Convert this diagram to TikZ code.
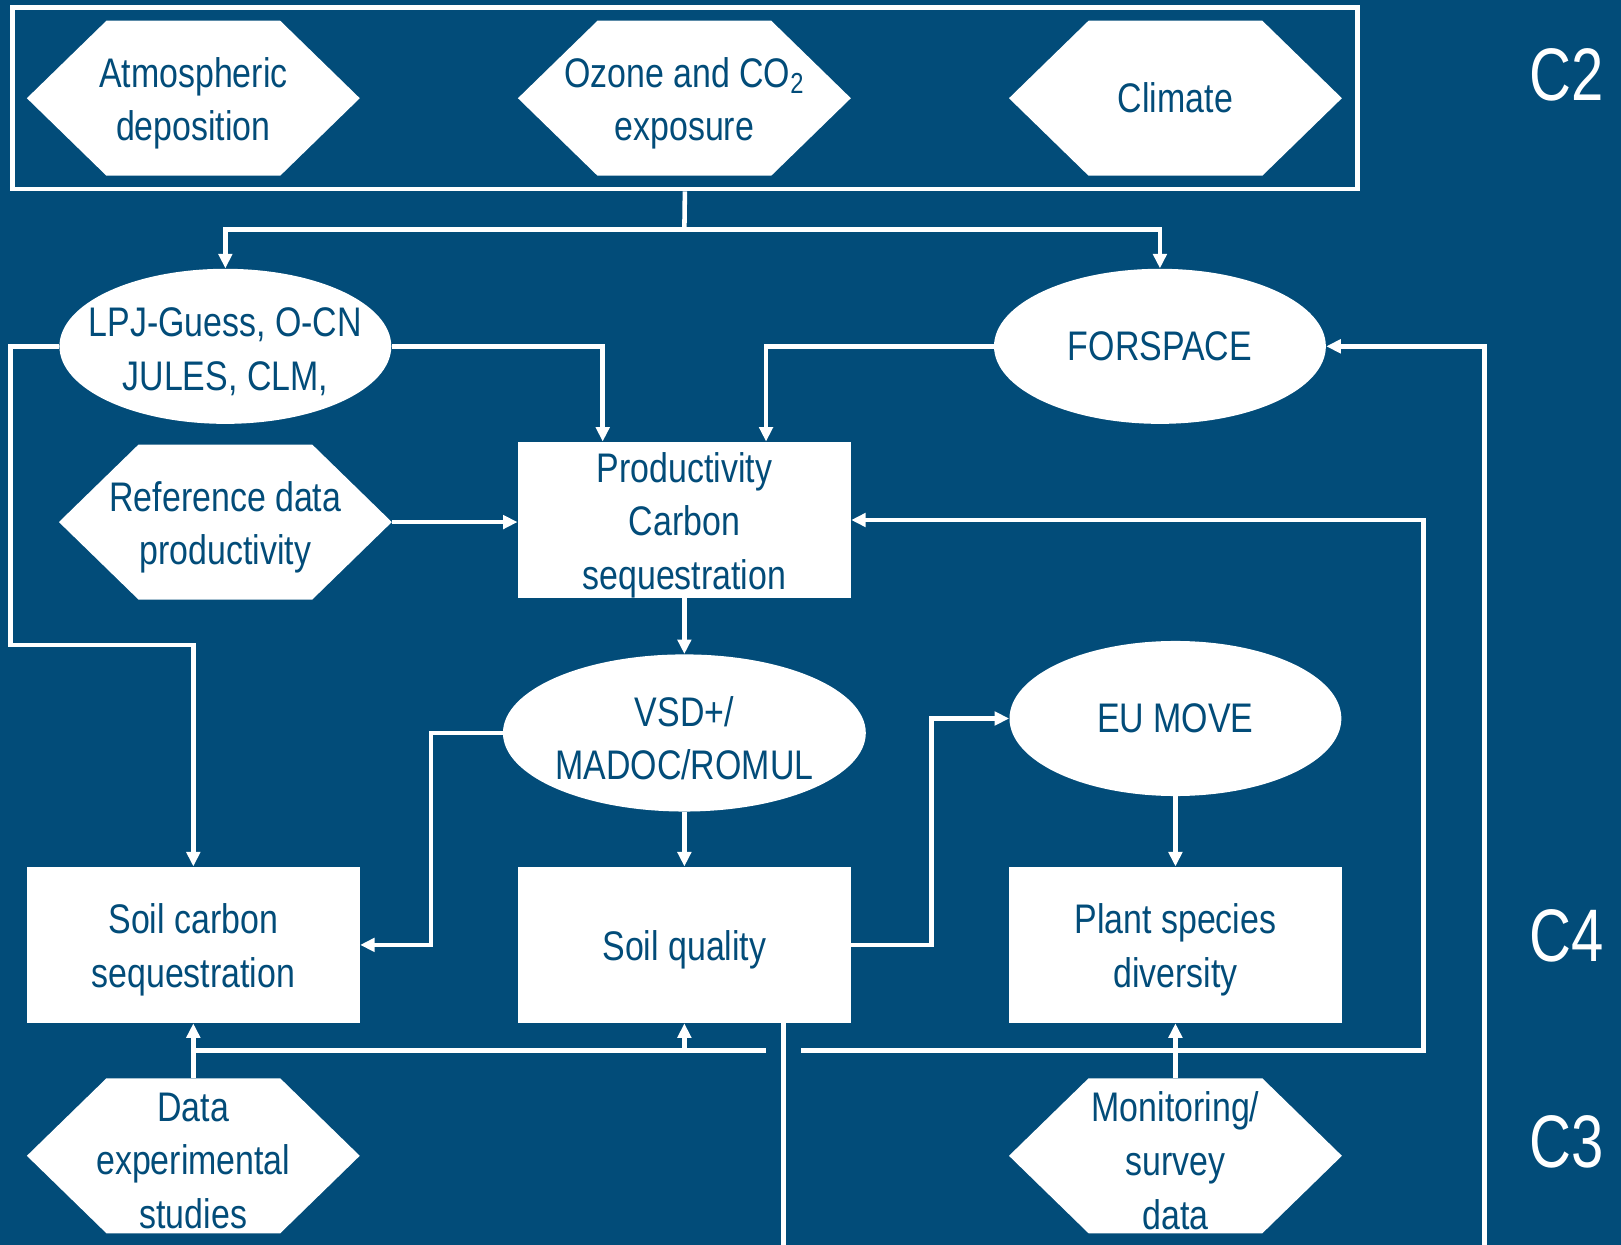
\documentclass[tikz,border=0pt]{standalone}
\usepackage{fontspec}
\setmainfont{Liberation Sans}[FakeStretch=0.82]
\newfontfamily\labfont{Liberation Sans}[FakeStretch=0.78]
\usetikzlibrary{arrows.meta,shapes.geometric}
\definecolor{bg}{HTML}{024C79}
\newcommand{\hexat}[5][]{%
  \fill[white,shift={(#3,#4)}] (-161,0) -- (-84,-75) -- (84,-75) -- (161,0) -- (84,75) -- (-84,75) -- cycle;
  \node[hexbox] (#2) at (#3,#4) {};
  \node[txt,#1] (#2-t) at (#2) {#5};}
\begin{document}
\begin{tikzpicture}[x=0.5pt,y=-0.5pt,
  txt/.style={text=bg,align=center,font=\fontsize{20}{26}\selectfont,inner sep=0pt,yshift=-2.5pt},
  hexbox/.style={inner sep=0pt,minimum width=161pt,minimum height=75pt},
  boxn/.style={fill=white,inner sep=0pt,minimum width=161pt,minimum height=75.5pt},
  ell/.style={ellipse,fill=white,inner sep=0pt,minimum width=160.5pt,minimum height=75pt},
  ln/.style={white,line width=2.2pt},
  arr/.style={ln,-{Triangle[length=7pt,width=6.5pt]}},
  clab/.style={white,font=\labfont\fontsize{36}{40}\selectfont,inner sep=0pt}]
\fill[bg] (0,0) rectangle (1568,1204);
\useasboundingbox (0,0) rectangle (1568,1204);
% top group
\node[draw=white,line width=2.2pt,minimum width=650.5pt,minimum height=88pt,inner sep=0pt] (top) at (662.5,95) {};
\hexat{atm}{187}{95}{Atmospheric\\deposition}
\hexat{ozone}{662}{95}{Ozone and CO\textsubscript{2}\\exposure}
\hexat[yshift=2.5pt]{clim}{1137}{95}{Climate}
% ellipses
\node[ell] (lpj) at (218,335) {};
\node[txt] (lpj-t) at (lpj) {LPJ-Guess, O-CN\\JULES, CLM,};
\node[ell] (fors) at (1122,335) {};
\node[txt,yshift=2.5pt] (fors-t) at (fors) {FORSPACE};
\node[ell,minimum width=175.5pt,minimum height=76pt] (vsd) at (662,709) {};
\node[txt] (vsd-t) at (vsd) {VSD+/\\MADOC/ROMUL};
\node[ell] (eu) at (1137,695) {};
\node[txt,yshift=2.5pt] (eu-t) at (eu) {EU MOVE};
% boxes
\node[boxn] (prod) at (662,503) {};
\node[txt] (prod-t) at (prod) {Productivity\\Carbon\\sequestration};
\node[boxn] (soilc) at (187,914) {};
\node[txt] (soilc-t) at (soilc) {Soil carbon\\sequestration};
\node[boxn] (soilq) at (662,914) {};
\node[txt] (soilq-t) at (soilq) {Soil quality};
\node[boxn] (plant) at (1137,914) {};
\node[txt] (plant-t) at (plant) {Plant species\\diversity};
% hexagons
\hexat{ref}{218}{505}{Reference data\\productivity}
\hexat{data}{187}{1118}{Data\\experimental\\studies}
\hexat{mon}{1137}{1118}{Monitoring/\\survey\\data}
% labels
\node[clab] (c2) at (1515,72) {C2};
\node[clab] (c4) at (1515,905) {C4};
\node[clab] (c3) at (1515,1105) {C3};
% connectors
\coordinate (split) at (662,222);
\draw[ln] (top.south) -- (split);
\draw[arr] (split) -| (lpj.north);
\draw[arr] (split) -| (fors.north);
\draw[arr] (lpj.east) -| ([xshift=-39.5pt]prod.north);
\draw[arr] (fors.west) -| ([xshift=39.5pt]prod.north);
\draw[arr] (ref.east) -- (ref.east -| prod.west);
\draw[arr] (prod.south) -- (vsd.north);
\coordinate (c1) at (10,624);
\draw[arr] (lpj.west) -| (c1) -| (soilc.north);
\coordinate (cc2) at (417,914);
\draw[arr] (vsd.west) -| (cc2) -- (soilc.east);
\draw[arr] (vsd.south) -- (soilq.north);
\coordinate (cc3) at (901,914);
\draw[arr] (soilq.east) -- (cc3) |- (eu.west);
\draw[arr] (eu.south) -- (plant.north);
\draw[arr] (mon.north) -- (plant.south);
\draw[arr] (data.north) -- (soilc.south);
\coordinate (b1) at (187,1016);
\coordinate (b2) at (741,1016);
\coordinate (b3) at (775,1016);
\coordinate (b4) at (1377,1016);
\draw[ln] (b1) -- (b2);
\draw[arr] (soilq.south |- b1) -- (soilq.south);
\draw[arr] (b3) -- (b4) |- (prod.east);
\coordinate (d1) at (758,1204);
\draw[ln] (soilq.south -| d1) -- (d1);
\coordinate (d2) at (1436,1204);
\draw[arr] (d2) |- (fors.east);
\end{tikzpicture}
\end{document}
